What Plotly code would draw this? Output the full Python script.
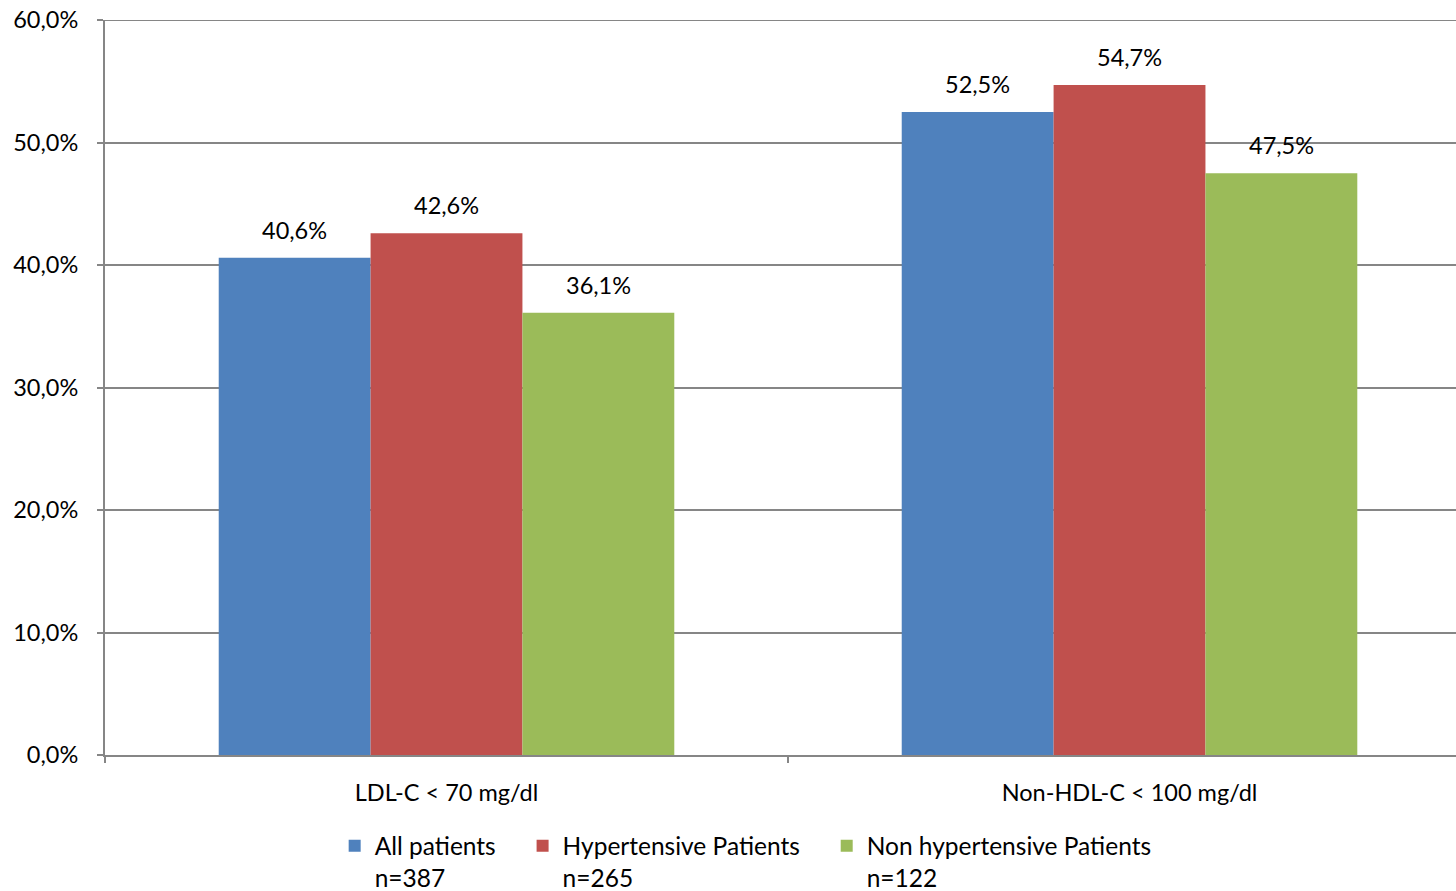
import plotly.graph_objects as go

categories = ["LDL-C < 70 mg/dl", "Non-HDL-C < 100 mg/dl"]
series_names = ["All patients", "Hypertensive Patients", "Non hypertensive Patients"]
series_n = ["n=387", "n=265", "n=122"]
series_values = [
    [40.6, 52.5],
    [42.6, 54.7],
    [36.1, 47.5],
]
colors = ["#4F81BD", "#C0504D", "#9BBB59"]
y_ticks = [0, 10, 20, 30, 40, 50, 60]
y_tick_labels = ["0,0%", "10,0%", "20,0%", "30,0%", "40,0%", "50,0%", "60,0%"]

FONT = "Lato"
FS = 23.5
LEG_FS = 24.5
BARGAP = 0.333
PAD = "\u00a0" * 3 + "\u2009"

fig = go.Figure()
for name, n, vals, col in zip(series_names, series_n, series_values, colors):
    fig.add_trace(go.Bar(
        x=categories, y=vals, name=name + PAD + "<br>" + n,
        marker=dict(color=col, line=dict(width=0)),
        hoverinfo="x+y",
    ))

# value labels above bars
nser = len(series_values)
bar_w = (1 - BARGAP) / nser
for j, vals in enumerate(series_values):
    for i, v in enumerate(vals):
        fig.add_annotation(
            x=i + (j - (nser - 1) / 2) * bar_w, y=v, xref="x", yref="y",
            text=f"{v:.1f}%".replace(".", ","), showarrow=False,
            yanchor="middle", yshift=28,
            font=dict(family=FONT, size=FS, color="#000000"),
        )

fig.update_layout(
    width=1456, height=891,
    margin=dict(l=105, r=0, t=20, b=136, autoexpand=False),
    paper_bgcolor="white", plot_bgcolor="white",
    barmode="group", bargap=BARGAP, bargroupgap=0,
    separators=",.",
    font=dict(family=FONT, size=FS, color="#000000"),
    showlegend=True,
    legend=dict(orientation="h", x=0.170, xanchor="left", y=-0.093, yanchor="top",
                font=dict(family=FONT, size=LEG_FS, color="#000000"),
                traceorder="normal", valign="top"),
    xaxis=dict(range=[-0.5, 1.478], showgrid=False, showline=True, linecolor="#868686", linewidth=2,
               ticks="outside", tickson="boundaries", ticklen=6, tickcolor="#868686", tickwidth=2,
               ticklabelstandoff=16, tickfont=dict(family=FONT, size=FS)),
    yaxis=dict(range=[0, 60], tickvals=y_ticks, ticktext=y_tick_labels,
               ticklabeloverflow="allow",
               showgrid=True, gridcolor="#868686", gridwidth=2,
               showline=True, linecolor="#868686", linewidth=2,
               ticks="outside", ticklen=6, tickcolor="#868686", tickwidth=2,
               zeroline=False, ticklabelstandoff=14, tickfont=dict(family=FONT, size=FS)),
)
fig.add_shape(type="line", xref="paper", yref="y", x0=0, x1=1, y0=y_ticks[-1], y1=y_ticks[-1],
              line=dict(color="#868686", width=2), layer="below")
fig.write_html("out.html", config={"displayModeBar": False},
               post_script="document.body.style.margin='0';document.body.style.overflow='hidden';")
